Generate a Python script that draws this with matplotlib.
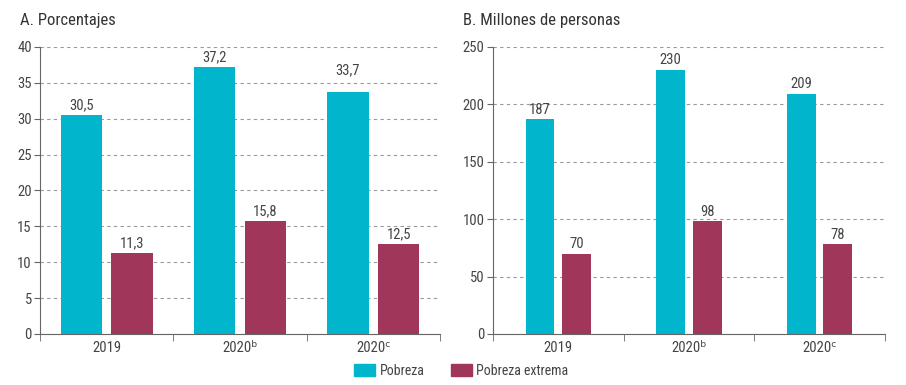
import matplotlib
matplotlib.use("Agg")
import matplotlib.pyplot as plt
import numpy as np
from matplotlib.patches import Patch

plt.rcParams['font.family'] = ['Roboto Condensed', 'Roboto', 'DejaVu Sans']

categories = ['2019', '2020ᵇ', '2020ᶜ']
pct_pobreza = [30.5, 37.2, 33.7]
pct_extrema = [11.3, 15.8, 12.5]
mill_pobreza = [187, 230, 209]
mill_extrema = [70, 98, 78]

CYAN = '#00B5CC'
WINE = '#A0365A'
TXT = '#444444'

fig = plt.figure(figsize=(9.06, 3.85), dpi=100)
axA = fig.add_axes([0.0442, 0.1325, 0.4415, 0.7455])
axB = fig.add_axes([0.544, 0.1325, 0.4327, 0.7455])


def draw(ax, pob, ext, ymax, step, off, width, fmt, lift=None):
    lift = lift or {}
    x = np.arange(len(categories))
    b1 = ax.bar(x - off, pob, width, color=CYAN)
    b2 = ax.bar(x + off, ext, width, color=WINE)
    for k, (bars, vals) in enumerate(((b1, pob), (b2, ext))):
        for i, (r, v) in enumerate(zip(bars, vals)):
            ax.annotate(fmt(v), (r.get_x() + r.get_width() / 2, v),
                        xytext=(0, 2 + lift.get((k, i), 0)), textcoords='offset points',
                        ha='center', va='bottom', fontsize=10.5, color=TXT)
    ax.set_xlim(-0.5, 2.5)
    ax.set_ylim(0, ymax)
    ax.set_yticks(np.arange(0, ymax + 1, step))
    ax.yaxis.grid(True, linestyle=(0, (3, 3)), color='#999999', linewidth=0.8)
    ax.set_axisbelow(True)
    ax.set_xticks(x)
    ax.set_xticklabels(categories)
    ax.set_xticks([-0.5, 0.5, 1.5, 2.5], minor=True)
    ax.tick_params(axis='x', which='major', length=0, pad=5, labelsize=10.5, labelcolor=TXT)
    ax.tick_params(axis='x', which='minor', length=5, color='#666666', direction='out')
    ax.tick_params(axis='y', length=4, color='#666666', labelsize=10.5, labelcolor=TXT, pad=2)
    for s in ('top', 'right'):
        ax.spines[s].set_visible(False)
    ax.spines['left'].set_color('#666666')
    ax.spines['bottom'].set_color('#666666')


draw(axA, pct_pobreza, pct_extrema, 40, 5, 0.19, 0.31,
     lambda v: f'{v:.1f}'.replace('.', ','), lift={(0, 2): 9})
draw(axB, mill_pobreza, mill_extrema, 250, 50, 0.14, 0.22,
     lambda v: f'{v:d}')

fig.text(20 / 906, 1 - 20 / 385, 'A. Porcentajes', fontsize=12, color='#333333', va='center')
fig.text(463 / 906, 1 - 20 / 385, 'B. Millones de personas', fontsize=12, color='#333333', va='center')

handles = [Patch(color=CYAN, label='Pobreza'), Patch(color=WINE, label='Pobreza extrema')]
fig.legend(handles=handles, loc='center', bbox_to_anchor=(0.509, 1 - 371 / 385), ncol=2,
           frameon=False, fontsize=10, labelcolor=TXT, handlelength=1.5, handleheight=0.9,
           columnspacing=1.9, handletextpad=0.3)

fig.savefig('out.png', dpi=100)
